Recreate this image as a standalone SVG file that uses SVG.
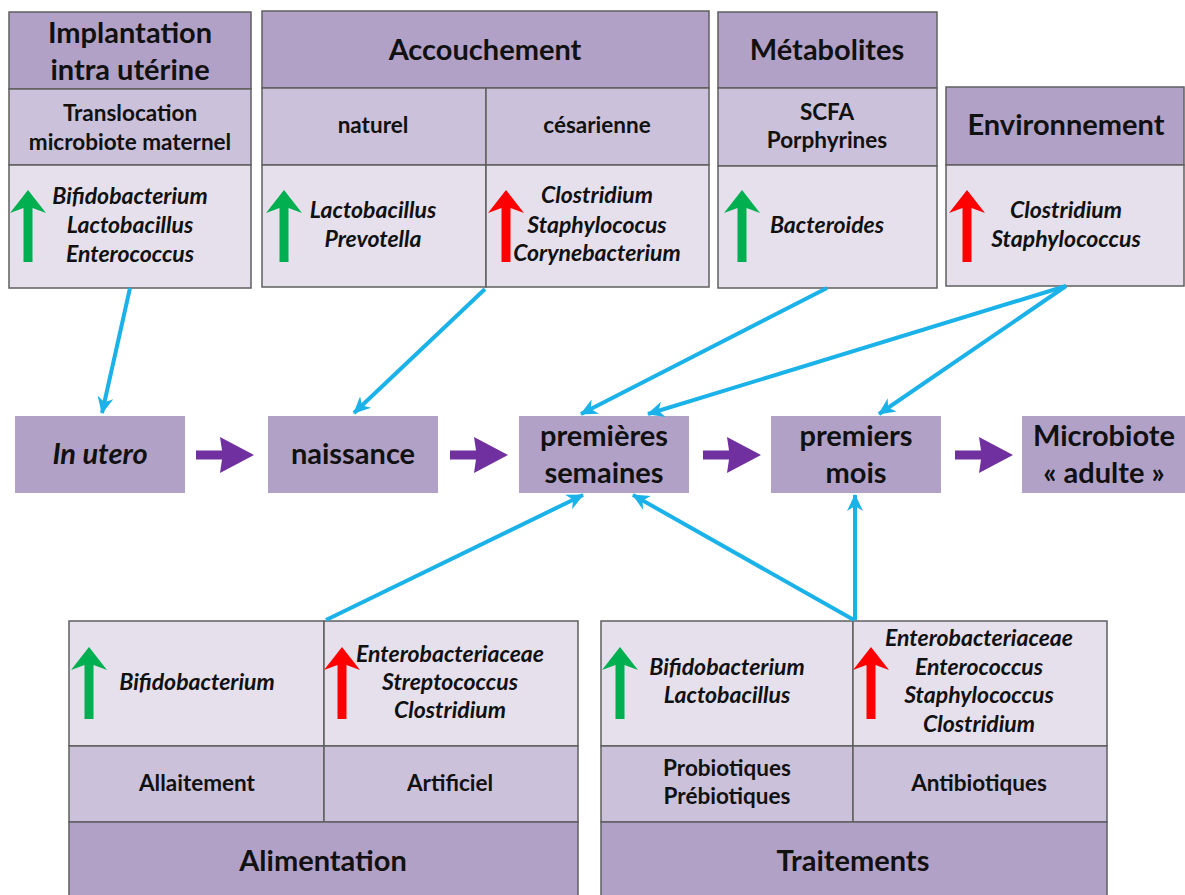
<svg xmlns="http://www.w3.org/2000/svg" width="1185" height="895" viewBox="0 0 1185 895">
<style>
.hd{fill:#b2a1c7;stroke:#5f5f5f;stroke-width:1.5}
.md{fill:#ccc1da;stroke:#5f5f5f;stroke-width:1.5}
.bt{fill:#e5e0ec;stroke:#5f5f5f;stroke-width:1.5}
.nd{fill:#b2a1c7}
text{font-family:Lato,"Noto Sans",sans-serif;fill:#111;text-anchor:middle;font-weight:bold}
.h{font-size:29px}
.m{font-size:22.5px}
.i{font-size:23px;font-style:italic}
.n{font-size:29px}
.ni{font-size:29px;font-style:italic}
.cb{stroke:#1ab2e8;stroke-width:4;fill:none}
.pa{fill:#7030a0}
.g{fill:#00b050}
.r{fill:#ff0000}
</style>
<defs>
<marker id="bh" markerUnits="userSpaceOnUse" markerWidth="18" markerHeight="18" refX="16" refY="8" orient="auto" viewBox="0 0 18 16">
<path d="M0,0 L17,8 L0,16 L5,8 z" fill="#1ab2e8"/>
</marker>
<path id="up" d="M0,0 L18,23 L4.5,18 L4.5,72 L-4.5,72 L-4.5,18 L-18,23 z"/>
<path id="pr" d="M0,-4.5 L26,-4.5 L24,-18 L58,0 L24,18 L26,4.5 L0,4.5 z"/>
</defs>

<g id="implantation">
<rect class="hd" x="9" y="12" width="242" height="77"/>
<rect class="md" x="9" y="89" width="242" height="76"/>
<rect class="bt" x="9" y="165" width="242" height="123"/>
<text class="h" x="130" y="43">Implantation</text>
<text class="h" x="130" y="80">intra utérine</text>
<text class="m" x="130" y="121">Translocation</text>
<text class="m" x="130" y="150">microbiote maternel</text>
<use href="#up" class="g" x="28" y="190"/>
<text class="i" x="130" y="204">Bifidobacterium</text>
<text class="i" x="130" y="233">Lactobacillus</text>
<text class="i" x="130" y="262">Enterococcus</text>
</g>

<g id="accouchement">
<rect class="hd" x="262" y="11" width="447" height="77"/>
<rect class="md" x="262" y="88" width="224" height="77"/>
<rect class="md" x="486" y="88" width="223" height="77"/>
<rect class="bt" x="262" y="165" width="224" height="122"/>
<rect class="bt" x="486" y="165" width="223" height="122"/>
<text class="h" x="485" y="60">Accouchement</text>
<text class="m" x="373" y="133">naturel</text>
<text class="m" x="597" y="133">césarienne</text>
<use href="#up" class="g" x="284" y="190"/>
<text class="i" x="373" y="218">Lactobacillus</text>
<text class="i" x="373" y="247">Prevotella</text>
<use href="#up" class="r" x="506" y="190"/>
<text class="i" x="597" y="203">Clostridium</text>
<text class="i" x="597" y="233">Staphylococus</text>
<text class="i" x="597" y="261">Corynebacterium</text>
</g>

<g id="metabolites">
<rect class="hd" x="718" y="12" width="219" height="76"/>
<rect class="md" x="718" y="88" width="219" height="78"/>
<rect class="bt" x="718" y="166" width="219" height="122"/>
<text class="h" x="827" y="60">Métabolites</text>
<text class="m" x="827" y="120">SCFA</text>
<text class="m" x="827" y="148">Porphyrines</text>
<use href="#up" class="g" x="742" y="190"/>
<text class="i" x="827" y="233">Bacteroides</text>
</g>

<g id="environnement">
<rect class="hd" x="946" y="87" width="238" height="78"/>
<rect class="bt" x="946" y="165" width="238" height="121"/>
<text class="h" x="1066" y="135">Environnement</text>
<use href="#up" class="r" x="967" y="190"/>
<text class="i" x="1066" y="218">Clostridium</text>
<text class="i" x="1066" y="247">Staphylococcus</text>
</g>

<g id="in-utero">
<rect class="nd" x="15" y="416" width="170" height="77"/>
<text class="ni" x="100" y="464">In utero</text>
</g>
<g id="naissance">
<rect class="nd" x="268" y="416" width="170" height="77"/>
<text class="n" x="353" y="464">naissance</text>
</g>
<g id="premieres-semaines">
<rect class="nd" x="519" y="416" width="170" height="77"/>
<text class="n" x="604" y="446">premières</text>
<text class="n" x="604" y="483">semaines</text>
</g>
<g id="premiers-mois">
<rect class="nd" x="771" y="416" width="170" height="77"/>
<text class="n" x="856" y="446">premiers</text>
<text class="n" x="856" y="483">mois</text>
</g>
<g id="microbiote-adulte">
<rect class="nd" x="1022" y="416" width="163" height="77"/>
<text class="n" x="1104" y="446">Microbiote</text>
<text class="n" x="1104" y="483">« adulte »</text>
</g>

<g id="alimentation">
<rect class="bt" x="69" y="621" width="255" height="125"/>
<rect class="bt" x="324" y="621" width="254" height="125"/>
<rect class="md" x="69" y="746" width="255" height="76"/>
<rect class="md" x="324" y="746" width="254" height="76"/>
<rect class="hd" x="69" y="822" width="509" height="75"/>
<use href="#up" class="g" x="89" y="647"/>
<text class="i" x="197" y="690">Bifidobacterium</text>
<use href="#up" class="r" x="342" y="647"/>
<text class="i" x="450" y="662">Enterobacteriaceae</text>
<text class="i" x="450" y="690">Streptococcus</text>
<text class="i" x="450" y="718">Clostridium</text>
<text class="m" x="197" y="791">Allaitement</text>
<text class="m" x="450" y="791">Artificiel</text>
<text class="h" x="323" y="871">Alimentation</text>
</g>

<g id="traitements">
<rect class="bt" x="601" y="621" width="252" height="125"/>
<rect class="bt" x="853" y="621" width="254" height="125"/>
<rect class="md" x="601" y="746" width="252" height="76"/>
<rect class="md" x="853" y="746" width="254" height="76"/>
<rect class="hd" x="601" y="822" width="506" height="75"/>
<use href="#up" class="g" x="620" y="647"/>
<text class="i" x="727" y="675">Bifidobacterium</text>
<text class="i" x="727" y="703">Lactobacillus</text>
<use href="#up" class="r" x="871" y="647"/>
<text class="i" x="979" y="646">Enterobacteriaceae</text>
<text class="i" x="979" y="675">Enterococcus</text>
<text class="i" x="979" y="703">Staphylococcus</text>
<text class="i" x="979" y="732">Clostridium</text>
<text class="m" x="727" y="776">Probiotiques</text>
<text class="m" x="727" y="804">Prébiotiques</text>
<text class="m" x="979" y="791">Antibiotiques</text>
<text class="h" x="853" y="871">Traitements</text>
</g>

<g id="connectors">
<line class="cb" x1="130" y1="288" x2="102" y2="413" marker-end="url(#bh)"/>
<line class="cb" x1="485" y1="289" x2="354" y2="413" marker-end="url(#bh)"/>
<line class="cb" x1="827" y1="288" x2="581" y2="414" marker-end="url(#bh)"/>
<line class="cb" x1="1066" y1="286" x2="648" y2="414" marker-end="url(#bh)"/>
<line class="cb" x1="1066" y1="286" x2="879" y2="414" marker-end="url(#bh)"/>
<line class="cb" x1="326" y1="620" x2="583" y2="495" marker-end="url(#bh)"/>
<line class="cb" x1="854" y1="620" x2="633" y2="495" marker-end="url(#bh)"/>
<line class="cb" x1="855" y1="620" x2="855" y2="495" marker-end="url(#bh)"/>
<use href="#pr" class="pa" x="196" y="455"/>
<use href="#pr" class="pa" x="450" y="455"/>
<use href="#pr" class="pa" x="703" y="455"/>
<use href="#pr" class="pa" x="955" y="455"/>
</g>
</svg>
